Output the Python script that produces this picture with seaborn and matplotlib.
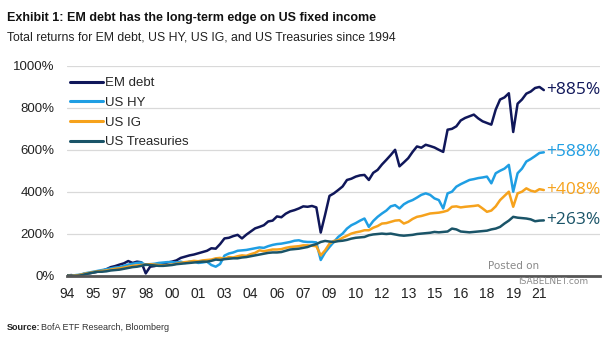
import numpy as np
import pandas as pd
import matplotlib
matplotlib.use("Agg")
import matplotlib.pyplot as plt
import seaborn as sns
from matplotlib import font_manager

# ---------------- data (quarterly, % total return since 1994) ----------------
start_year = 1994.0
step = 0.25

em_debt = [0, 2, -2, 3,
           8, 10, 14, 18,
           22, 30, 40, 45,
           52, 58, 69, 60,
           66, 63, 10, 42,
           45, 50, 56, 62,
           66, 72, 84, 90,
           96, 100, 106, 112,
           118, 130, 128, 150,
           177, 180, 188, 194,
           177, 195, 210, 225,
           232, 240, 258, 262,
           282, 278, 295, 306,
           312, 320, 330, 328,
           332, 325, 205, 290,
           380, 392, 408, 425,
           456, 462, 472, 478,
           480, 456, 490, 504,
           530, 552, 575, 600,
           521, 540, 560, 590,
           616, 610, 624, 618,
           611, 600, 590, 696,
           700, 712, 740, 752,
           760, 768, 750, 736,
           728, 720, 792, 840,
           850, 870, 685, 820,
           840, 868, 878, 895,
           900, 885]

us_hy = [0, -2, 2, 4,
         10, 14, 18, 22,
         26, 30, 34, 38,
         40, 46, 52, 56,
         60, 62, 50, 54,
         56, 60, 62, 64,
         64, 62, 66, 60,
         66, 68, 60, 62,
         66, 50, 42, 55,
         95, 105, 110, 118,
         120, 122, 126, 130,
         134, 132, 140, 146,
         150, 152, 156, 160,
         166, 168, 162, 160,
         160, 158, 74, 110,
         136, 160, 184, 200,
         224, 240, 250, 262,
         272, 232, 260, 280,
         296, 310, 330, 336,
         320, 340, 352, 360,
         372, 385, 392, 385,
         368, 360, 320, 392,
         400, 424, 436, 446,
         456, 460, 465, 468,
         472, 440, 488, 500,
         510, 528, 400, 488,
         510, 544, 556, 570,
         585, 588]

us_ig = [0, -2, 0, 3,
         8, 12, 16, 20,
         22, 24, 28, 32,
         34, 38, 42, 46,
         48, 50, 52, 54,
         52, 50, 48, 50,
         52, 56, 60, 64,
         66, 70, 68, 72,
         74, 76, 82, 84,
         80, 88, 86, 92,
         96, 94, 102, 108,
         120, 116, 120, 124,
         124, 126, 132, 136,
         138, 140, 144, 144,
         142, 140, 96, 120,
         152, 165, 168, 180,
         190, 200, 206, 210,
         216, 216, 228, 236,
         248, 250, 256, 262,
         264, 248, 256, 270,
         280, 284, 290, 296,
         298, 300, 304, 310,
         328, 330, 325, 328,
         330, 332, 335, 320,
         304, 310, 330, 360,
         380, 400, 328, 392,
         400, 416, 405, 400,
         412, 408]

us_treasuries = [0, -3, -2, 0,
                 5, 10, 14, 18,
                 18, 20, 24, 26,
                 28, 32, 36, 40,
                 42, 46, 52, 50,
                 48, 46, 46, 48,
                 50, 54, 56, 58,
                 60, 62, 64, 66,
                 66, 70, 76, 74,
                 78, 80, 82, 82,
                 86, 88, 92, 96,
                 100, 104, 108, 110,
                 110, 112, 118, 124,
                 126, 128, 132, 136,
                 144, 150, 160, 165,
                 162, 160, 164, 166,
                 170, 176, 180, 182,
                 184, 192, 196, 198,
                 200, 198, 200, 196,
                 192, 190, 192, 194,
                 198, 200, 202, 204,
                 208, 206, 208, 210,
                 224, 220, 210, 208,
                 206, 208, 210, 212,
                 214, 220, 224, 232,
                 248, 262, 280, 276,
                 274, 272, 268, 259,
                 262, 263]

series_names = ["EM debt", "US HY", "US IG", "US Treasuries"]
series_values = [em_debt, us_hy, us_ig, us_treasuries]
end_labels = ["+885%", "+588%", "+408%", "+263%"]
colors = ["#10175a", "#1f9ee3", "#f6a21c", "#1a5468"]

x_tick_labels = ["94", "95", "97", "98", "00", "01", "03", "04", "06", "07",
                 "09", "10", "12", "13", "15", "16", "18", "19", "21"]
y_ticks = [0, 200, 400, 600, 800, 1000]

# ---------------- build long-form table ----------------
frames = []
for name, vals in zip(series_names, series_values):
    t = start_year + step * np.arange(len(vals))
    frames.append(pd.DataFrame({"year": t, "value": vals, "series": name}))
df = pd.concat(frames, ignore_index=True)

# ---------------- style ----------------
sns.set_theme(style="white")
avail = {f.name for f in font_manager.fontManager.ttflist}
narrow = "Liberation Sans Narrow" if "Liberation Sans Narrow" in avail else "Liberation Sans"
plt.rcParams["font.family"] = [narrow, "DejaVu Sans"]

fig = plt.figure(figsize=(6.05, 3.41), dpi=100)
ax = fig.add_axes([67 / 605, 1 - 275.5 / 341, (600 - 67) / 605, (275.5 - 66) / 341])

sns.lineplot(data=df, x="year", y="value", hue="series", hue_order=series_names,
             palette=colors, linewidth=1.8, ax=ax, legend=True)

ax.set_xlim(1994.0, 2024.46)
ax.set_ylim(0, 1000)
ax.set_yticks(y_ticks)
ax.set_yticklabels([f"{v}%" for v in y_ticks])
ax.set_xticks([1994 + 1.5 * i for i in range(len(x_tick_labels))])
ax.set_xticklabels(x_tick_labels)
ax.set_xlabel("")
ax.set_ylabel("")
ax.tick_params(axis="x", length=0, labelsize=10, colors="#222222", pad=8)
ax.tick_params(axis="y", length=0, labelsize=9.5, colors="#222222", pad=9)

ax.grid(axis="y", color="#d9d9d9", linewidth=0.9)
ax.grid(axis="x", visible=False)
for s in ["left", "right", "top"]:
    ax.spines[s].set_visible(False)
ax.spines["bottom"].set_color("#555555")
ax.spines["bottom"].set_linewidth(2.0)

leg = ax.legend(loc="upper left", bbox_to_anchor=(0.0, 0.963), frameon=False,
                fontsize=9.5, handlelength=2.5, handletextpad=0.15,
                labelspacing=0.56, borderaxespad=0.0, borderpad=0.25)
for line in leg.get_lines():
    line.set_linewidth(2.2)

for name, vals, lab, c in zip(series_names, series_values, end_labels, colors):
    t_end = start_year + step * (len(vals) - 1)
    ax.annotate(lab, xy=(t_end, vals[-1]), xytext=(2, 0), textcoords="offset points",
                va="center", ha="left", color=c, fontsize=12.5,
                family=["Open Sans", "DejaVu Sans"])

# ---------------- titles & notes ----------------
fig.text(7 / 605, 1 - 18 / 341, "Exhibit 1: EM debt has the long-term edge on US fixed income",
         fontsize=9.0, fontweight="bold", color="#111111", va="center", ha="left")
fig.text(7 / 605, 1 - 38 / 341, "Total returns for EM debt, US HY, US IG, and US Treasuries since 1994",
         fontsize=8.8, color="#222222", va="center", ha="left")
fig.text(7 / 605, 1 - 327 / 341, "Source:", fontsize=6.5, fontweight="bold",
         color="#222222", va="center", ha="left")
fig.text(41 / 605, 1 - 327 / 341, "BofA ETF Research, Bloomberg", fontsize=6.5,
         color="#333333", va="center", ha="left")

fig.text(488 / 605, 1 - 266 / 341, "Posted on", fontsize=7.5, color="#8a8a8a",
         va="center", ha="left", family=["DejaVu Sans"])
fig.text(518 / 605, 1 - 281 / 341, "ISABELNET.com", fontsize=6.5, color="#8a8a8a",
         va="center", ha="left", family=["DejaVu Sans"])

fig.savefig("out.png", dpi=100)
